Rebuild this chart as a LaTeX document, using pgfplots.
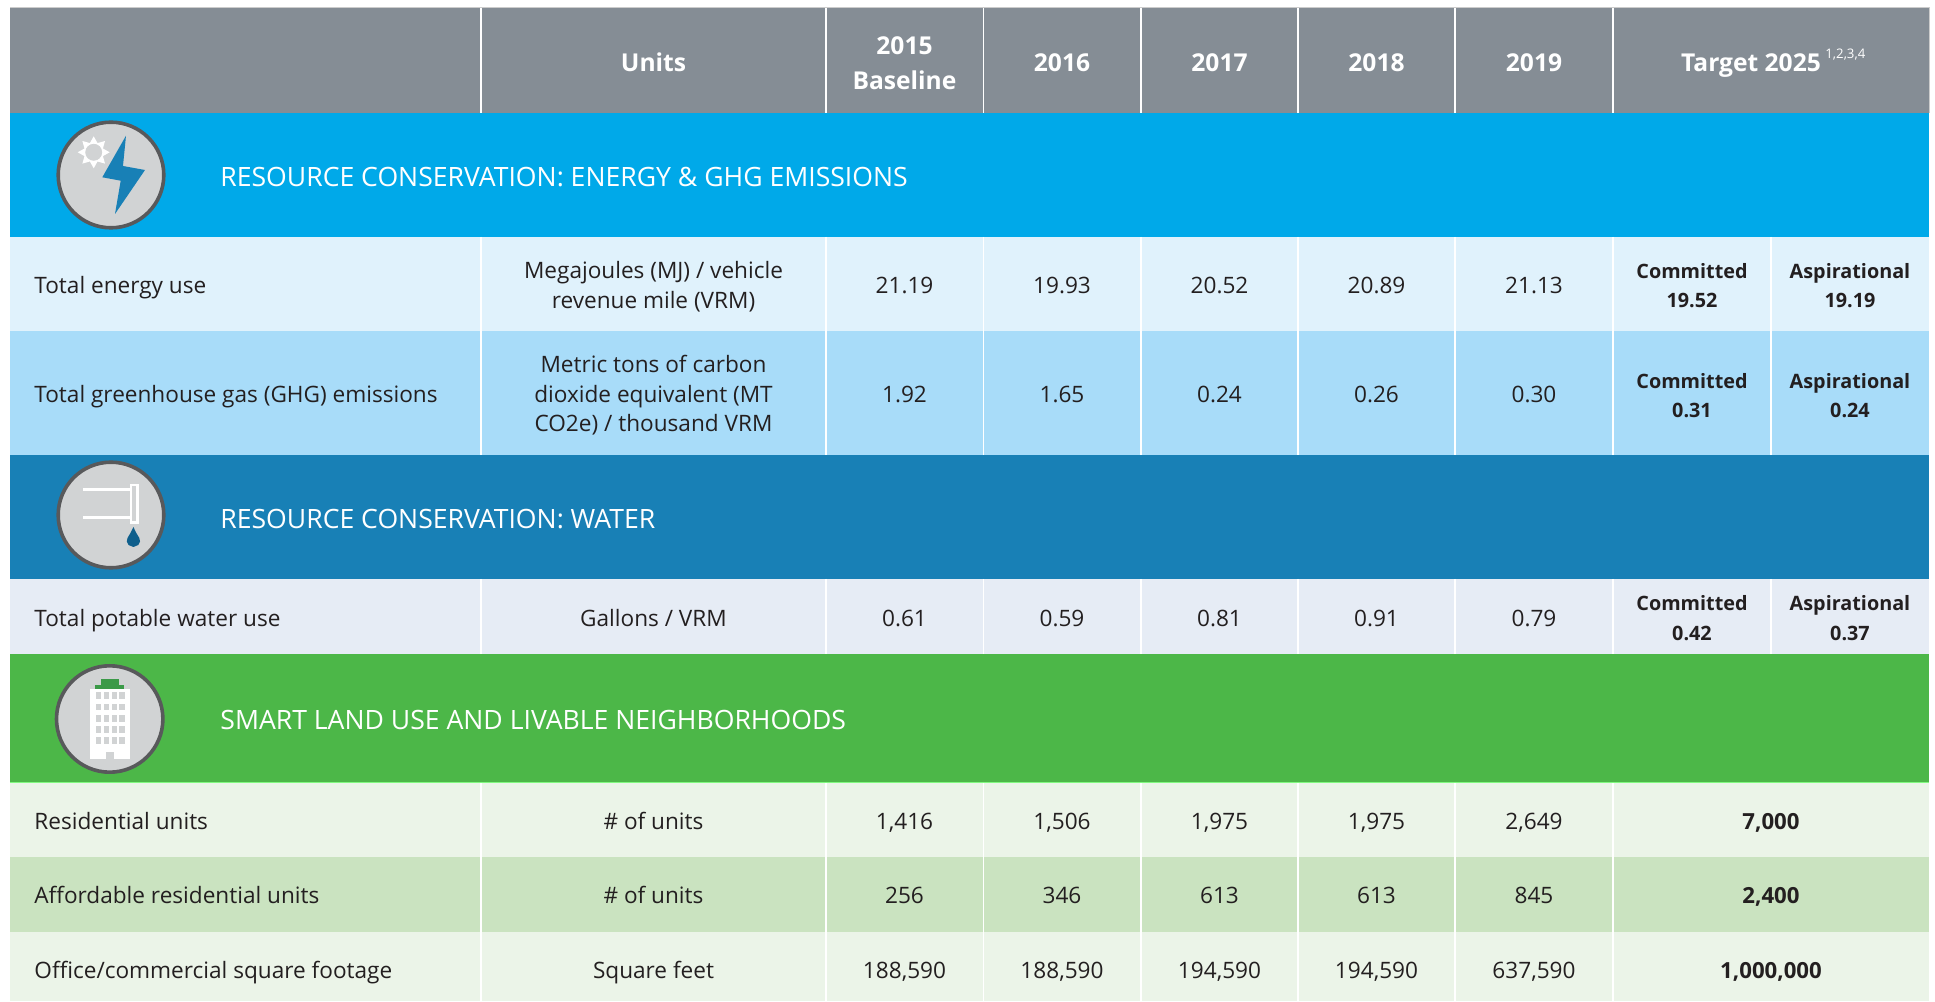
\documentclass[border=0pt]{standalone}
\usepackage{pgfplots}
\usepackage{pgfplotstable}
\usepackage{fontspec}
\pgfplotsset{compat=1.18}
\setmainfont{Open Sans}

\definecolor{hdr}{HTML}{858D95}
\definecolor{cyanband}{HTML}{00A9E9}
\definecolor{cyanlt}{HTML}{E0F2FC}
\definecolor{cyanmd}{HTML}{A8DCF9}
\definecolor{blueband}{HTML}{1880B6}
\definecolor{bluelt}{HTML}{E6ECF5}
\definecolor{greenband}{HTML}{4CB748}
\definecolor{greenlt}{HTML}{EBF4E8}
\definecolor{greenmd}{HTML}{CAE3C0}
\definecolor{ink}{HTML}{231F20}
\definecolor{disc}{HTML}{D1D3D4}
\definecolor{ring}{HTML}{58595B}
\definecolor{bolt}{HTML}{1880B6}
\definecolor{drop}{HTML}{0F5F8C}
\definecolor{roof}{HTML}{3B9A48}

% x y label, in pixels of the reference
\pgfplotstableread{
x y label
653.5 71.5 Units
904.5 54.5 2015
904.5 89.5 Baseline
1062 71.5 2016
1219.5 71.5 2017
1376.5 71.5 2018
1534 71.5 2019
1751 71.5 {Target 2025}
}\headcells

\pgfplotstableread{
x y label
220 186.5 {RESOURCE CONSERVATION: ENERGY \& GHG EMISSIONS}
220 528.5 {RESOURCE CONSERVATION: WATER}
220 729.5 {SMART LAND USE AND LIVABLE NEIGHBORHOODS}
}\sectioncells

\pgfplotstableread{
x y label
34 294 {Total energy use}
34 402.5 {Total greenhouse gas (GHG) emissions}
34 626.5 {Total potable water use}
34 829.5 {Residential units}
34 903.5 {Affordable residential units}
34 978.5 {Office/commercial square footage}
}\namecells

\pgfplotstableread{
x y label
653.5 278.5 {Megajoules (MJ) / vehicle}
653.5 308.5 {revenue mile (VRM)}
653.5 372.5 {Metric tons of carbon}
653.5 402.5 {dioxide equivalent (MT}
653.5 431.5 {CO2e) / thousand VRM}
653.5 626.5 {Gallons / VRM}
653.5 829.5 {\# of units}
653.5 903.5 {\# of units}
653.5 978.5 {Square feet}
904.5 294 21.19
1062 294 19.93
1219.5 294 20.52
1376.5 294 20.89
1534 294 21.13
904.5 402.5 1.92
1062 402.5 1.65
1219.5 402.5 0.24
1376.5 402.5 0.26
1534 402.5 0.30
904.5 626.5 0.61
1062 626.5 0.59
1219.5 626.5 0.81
1376.5 626.5 0.91
1534 626.5 0.79
904.5 829.5 1,416
1062 829.5 1,506
1219.5 829.5 1,975
1376.5 829.5 1,975
1534 829.5 2,649
904.5 903.5 256
1062 903.5 346
1219.5 903.5 613
1376.5 903.5 613
1534 903.5 845
904.5 978.5 188,590
1062 978.5 188,590
1219.5 978.5 194,590
1376.5 978.5 194,590
1534 978.5 637,590
}\valuecells

\pgfplotstableread{
x y label
1692 278.5 Committed
1692 308 19.52
1850 278.5 Aspirational
1850 308 19.19
1692 388.5 Committed
1692 417.5 0.31
1850 388.5 Aspirational
1850 417.5 0.24
1692 610.5 Committed
1692 640.5 0.42
1850 610.5 Aspirational
1850 640.5 0.37
}\targetcells

\pgfplotstableread{
x y label
1771 829.5 7,000
1771 903.5 2,400
1771 978.5 1,000,000
}\totalcells

\pgfplotsset{
  page axis/.style={
    scale only axis,
    width=967.5pt, height=500.5pt,
    xmin=0, xmax=1935, ymin=0, ymax=1001,
    y dir=reverse,
    hide axis,
    clip=false,
  },
  rowfill/.style={draw=none, fill=#1, forget plot},
  colrule/.style={color=white, line width=0.75pt, no markers, unbounded coords=jump},
  celltext/.style={no markers, draw=none, nodes near coords, point meta=explicit symbolic},
}
\tikzset{
  cellnode/.style={inner sep=0pt, text=ink, font=\fontsize{11.3}{13}\selectfont},
}

\begin{document}
\begin{tikzpicture}
% marks go on top of the paths of their axis, so the discs get an axis of their own
\begin{axis}[page axis]
\addplot[rowfill=white] coordinates {(0,0)(1935,0)(1935,1001)(0,1001)} --cycle;
\addplot[rowfill=hdr] coordinates {(10,7.5)(1929,7.5)(1929,113)(10,113)} --cycle;
\addplot[rowfill=cyanband] coordinates {(10,113)(1929,113)(1929,237)(10,237)} --cycle;
\addplot[rowfill=cyanlt] coordinates {(10,237)(1929,237)(1929,331)(10,331)} --cycle;
\addplot[rowfill=cyanmd] coordinates {(10,331)(1929,331)(1929,455)(10,455)} --cycle;
\addplot[rowfill=blueband] coordinates {(10,455)(1929,455)(1929,579)(10,579)} --cycle;
\addplot[rowfill=bluelt] coordinates {(10,579)(1929,579)(1929,654)(10,654)} --cycle;
\addplot[rowfill=greenband] coordinates {(10,654)(1929,654)(1929,782)(10,782)} --cycle;
\addplot[rowfill=greenlt] coordinates {(10,782)(1929,782)(1929,857)(10,857)} --cycle;
\addplot[rowfill=greenmd] coordinates {(10,857)(1929,857)(1929,932)(10,932)} --cycle;
\addplot[rowfill=greenlt] coordinates {(10,932)(1929,932)(1929,1001)(10,1001)} --cycle;

% column rules
\addplot[colrule] coordinates {
  (481,7.5)(481,113)(481,nan)(481,237)(481,455)(481,nan)(481,579)(481,654)(481,nan)(481,782)(481,1001)};
\addplot[colrule] coordinates {
  (826,7.5)(826,113)(826,nan)(826,237)(826,455)(826,nan)(826,579)(826,654)(826,nan)(826,782)(826,1001)};
\addplot[colrule] coordinates {
  (983.5,7.5)(983.5,113)(983.5,nan)(983.5,237)(983.5,455)(983.5,nan)(983.5,579)(983.5,654)(983.5,nan)(983.5,782)(983.5,1001)};
\addplot[colrule] coordinates {
  (1141,7.5)(1141,113)(1141,nan)(1141,237)(1141,455)(1141,nan)(1141,579)(1141,654)(1141,nan)(1141,782)(1141,1001)};
\addplot[colrule] coordinates {
  (1298,7.5)(1298,113)(1298,nan)(1298,237)(1298,455)(1298,nan)(1298,579)(1298,654)(1298,nan)(1298,782)(1298,1001)};
\addplot[colrule] coordinates {
  (1455,7.5)(1455,113)(1455,nan)(1455,237)(1455,455)(1455,nan)(1455,579)(1455,654)(1455,nan)(1455,782)(1455,1001)};
\addplot[colrule] coordinates {
  (1613,7.5)(1613,113)(1613,nan)(1613,237)(1613,455)(1613,nan)(1613,579)(1613,654)(1613,nan)(1613,782)(1613,1001)};
\addplot[colrule] coordinates {
  (1771,237)(1771,455)(1771,nan)(1771,579)(1771,654)};
\addplot[color=black!20, line width=0.5pt, no markers] coordinates {(10,7.5)(1929,7.5)};
\addplot[color=black!20, line width=0.5pt, no markers] coordinates {(1929,7.5)(1929,113)};
\addplot[color=green!45!greenlt, line width=0.5pt, no markers] coordinates {(10,782.5)(1929,782.5)};

% icon discs
\addplot[only marks, mark=*, mark size=26.4pt, mark options={fill=disc, draw=ring, line width=1.8pt}] coordinates {(111,175)};
\addplot[only marks, mark=*, mark size=26.4pt, mark options={fill=disc, draw=ring, line width=1.8pt}] coordinates {(111,515)};
\addplot[only marks, mark=*, mark size=26.6pt, mark options={fill=disc, draw=ring, line width=1.8pt}] coordinates {(109.7,719)};
\end{axis}

\begin{axis}[page axis]
% energy icon
\addplot[rowfill=white] coordinates {(109.7,152.3)(102.9,156.1)(105,163.6)(97.5,161.5)(93.7,168.3)(89.9,161.5)(82.4,163.6)(84.5,156.1)(77.7,152.3)(84.5,148.5)(82.4,141)(89.9,143.1)(93.7,136.3)(97.5,143.1)(105,141)(102.9,148.5)} --cycle;
\addplot[only marks, mark=*, mark size=4pt, mark options={fill=disc, draw=disc}] coordinates {(93.7,152.3)};
\addplot[rowfill=bolt] coordinates {(126,135.7)(102.3,177.3)(120.7,180.7)(115,214)(145,170)(123,166)} --cycle;

% water icon
\addplot[white, line width=1.5pt, no markers] coordinates {(83,490)(131,490)};
\addplot[white, line width=1.5pt, no markers] coordinates {(83,518)(131,518)};
\addplot[white, line width=1.3pt, no markers, fill=disc] coordinates {(131,485)(137.5,485)(137.5,522.5)(131,522.5)} --cycle;
\addplot[rowfill=drop] coordinates {(133.4,527)(130.5,533)(127.5,538)(126.8,541.5)(128.5,545)(133.4,547)(138.3,545)(140,541.5)(139.3,538)(136.3,533)} --cycle;

% building icon
\addplot[rowfill=white] coordinates {(89.7,689)(130,689)(130,759)(89.7,759)} --cycle;
\addplot[rowfill=disc] coordinates {(105.7,752)(114.3,752)(114.3,759)(105.7,759)} --cycle;
\addplot[rowfill=roof] coordinates {(95,685.3)(124.3,685.3)(124.3,689)(95,689)} --cycle;
\addplot[rowfill=roof] coordinates {(101,679.5)(119,679.5)(119,685.3)(101,685.3)} --cycle;
\addplot[only marks, mark=square*, mark size=1.45pt, mark options={fill=disc, draw=disc, line width=0.2pt, xscale=.75}] coordinates {
  (98.3,695.3)(106,695.3)(114,695.3)(121.7,695.3)
  (98.3,706.7)(106,706.7)(114,706.7)(121.7,706.7)
  (98.3,718)(106,718)(114,718)(121.7,718)
  (98.3,729)(106,729)(114,729)(121.7,729)
  (98.3,740)(106,740)(114,740)(121.7,740)};

% text
\addplot[celltext, every node near coord/.append style={cellnode, anchor=base, text=white, font=\fontsize{12.3}{14}\selectfont\bfseries}] table[x=x, y=y, meta=label] {\headcells};
\addplot[no markers, draw=none, nodes near coords={1,2,3,4}, every node near coord/.append style={inner sep=0pt, anchor=base west, text=white, font=\fontsize{6.6}{8}\selectfont}] coordinates {(1825,58.5)};
\addplot[celltext, every node near coord/.append style={cellnode, anchor=base west, text=white, font=\fontsize{13.3}{15}\selectfont}] table[x=x, y=y, meta=label] {\sectioncells};
\addplot[celltext, every node near coord/.append style={cellnode, anchor=base west}] table[x=x, y=y, meta=label] {\namecells};
\addplot[celltext, every node near coord/.append style={cellnode, anchor=base}] table[x=x, y=y, meta=label] {\valuecells};
\addplot[celltext, every node near coord/.append style={cellnode, anchor=base, font=\fontsize{9.9}{12}\selectfont\bfseries}] table[x=x, y=y, meta=label] {\targetcells};
\addplot[celltext, every node near coord/.append style={cellnode, anchor=base, font=\fontsize{11.1}{13}\selectfont\bfseries}] table[x=x, y=y, meta=label] {\totalcells};
\end{axis}
\end{tikzpicture}
\end{document}
